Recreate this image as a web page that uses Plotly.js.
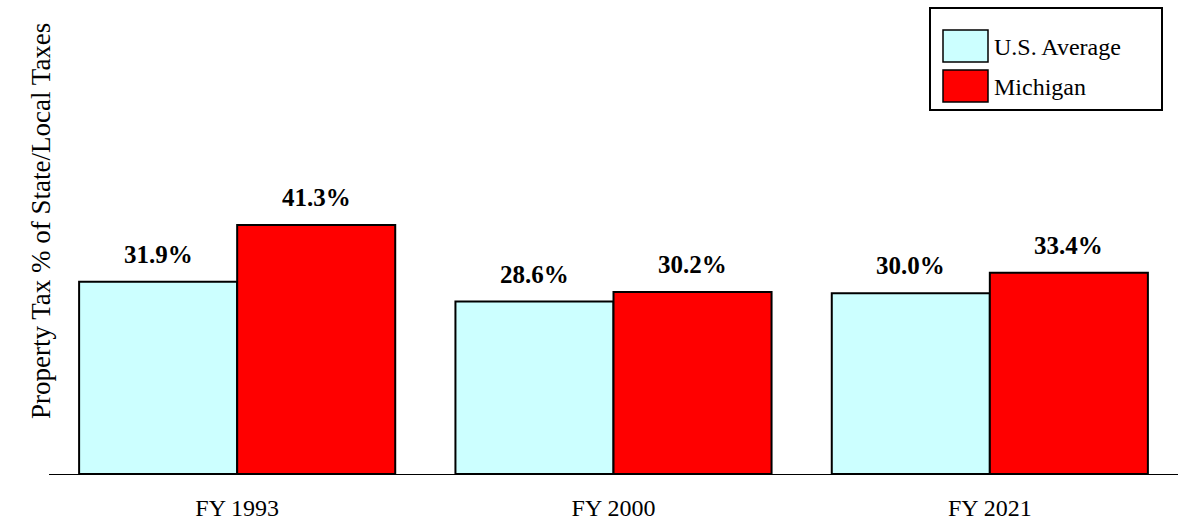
<!DOCTYPE html>
<html><head><meta charset="utf-8">
<script src="https://cdn.plot.ly/plotly-3.0.1.min.js"></script>
<style>body{margin:0;background:#fff}#chart{width:1178px;height:523px}</style>
</head><body><div id="chart"></div>
<script>
var years = ['FY 1993', 'FY 2000', 'FY 2021'];
var usAverage = [31.9, 28.6, 30.0];
var michigan = [41.3, 30.2, 33.4];
var seriesNames = ['U.S. Average', 'Michigan'];
var seriesColors = ['#CCFFFF', '#FF0000'];

function lbl(v) { return v.toFixed(1) + '%'; }

// plot area in pixels: x 49..1178, y 8..474
function px(x) { return (x - 49) / 1129; }
function py(y) { return (474 - y) / 466; }

var traces = [usAverage, michigan].map(function(vals, i) {
  return { x: years, y: vals, type: 'bar', name: seriesNames[i],
    marker: { color: seriesColors[i], line: { color: '#000', width: 2 } },
    offsetgroup: String(i), showlegend: false, hoverinfo: 'none' };
});

var annotations = [];
[usAverage, michigan].forEach(function(vals, i) {
  vals.forEach(function(v, j) {
    annotations.push({ x: j + (i === 0 ? -0.21 : 0.21), y: v, xref: 'x', yref: 'y',
      text: '<b>' + lbl(v) + '</b>', showarrow: false, yanchor: 'bottom', yshift: 12,
      font: { family: 'Liberation Serif', size: 25, color: '#000' } });
  });
});

// y axis title placed by hand (it sits above the plot centre in the original)
annotations.push({ xref: 'paper', yref: 'paper', x: px(24), y: py(221), textangle: -90,
  text: 'Property Tax % of State/Local Taxes', showarrow: false,
  font: { family: 'Liberation Serif', size: 27, color: '#000' } });

// legend drawn by hand to match the large swatches
var shapes = [
  { type: 'rect', xref: 'paper', yref: 'paper', x0: px(930), x1: px(1162), y0: py(110), y1: py(8),
    line: { color: '#000', width: 2 }, fillcolor: '#fff' }
];
seriesNames.forEach(function(n, i) {
  var top = 30 + i * 40;
  shapes.push({ type: 'rect', xref: 'paper', yref: 'paper', x0: px(943), x1: px(988),
    y0: py(top + 32), y1: py(top), line: { color: '#000', width: 1.5 }, fillcolor: seriesColors[i] });
  annotations.push({ xref: 'paper', yref: 'paper', x: px(992), y: py(top + 17), xanchor: 'left',
    yanchor: 'middle', text: n, showarrow: false,
    font: { family: 'Liberation Serif', size: 24, color: '#000' } });
});

var layout = {
  width: 1178, height: 523,
  paper_bgcolor: '#fff', plot_bgcolor: '#fff',
  font: { family: 'Liberation Serif', color: '#000', size: 20 },
  barmode: 'group', bargap: 0.16, bargroupgap: 0,
  margin: { t: 8, r: 0, b: 49, l: 49 },
  xaxis: { range: [-0.5, 2.5], showline: true, linecolor: '#000', linewidth: 1,
           ticks: 'outside', ticklen: 12, tickcolor: 'rgba(0,0,0,0)',
           tickfont: { size: 24 } },
  yaxis: { range: [0, 77.3], showticklabels: false, showgrid: false, zeroline: false, ticks: '' },
  showlegend: false,
  shapes: shapes,
  annotations: annotations
};

Plotly.newPlot('chart', traces, layout, { displayModeBar: false, staticPlot: true });
</script></body></html>
